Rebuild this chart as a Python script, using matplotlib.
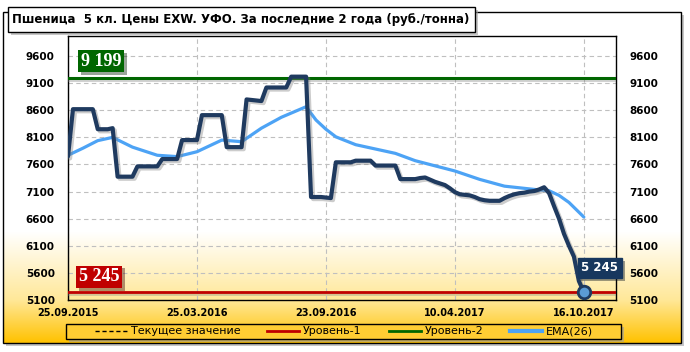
import numpy as np
import matplotlib.pyplot as plt
import matplotlib.patheffects as pe
import matplotlib.transforms as mtransforms
from matplotlib.patches import Rectangle
from matplotlib.lines import Line2D

plt.rcParams['font.family'] = ['DejaVu Sans']

title = 'Пшеница  5 кл. Цены EXW. УФО. За последние 2 года (руб./тонна)'
date_labels = ['25.09.2015', '25.03.2016', '23.09.2016', '10.04.2017', '16.10.2017']
date_pos = [0, 26, 52, 78, 104]
yticks = [5100, 5600, 6100, 6600, 7100, 7600, 8100, 8600, 9100, 9600]

# weekly prices
price = [7750,
         8620, 8620, 8620, 8620, 8620,
         8250, 8250, 8250, 8270,
         7375, 7375, 7375, 7375,
         7565, 7565, 7565, 7565, 7565,
         7700, 7700, 7700, 7700,
         8050, 8050, 8050, 8050,
         8510, 8510, 8510, 8510, 8510,
         7920, 7920, 7920, 7920,
         8800, 8790, 8780, 8770,
         9020, 9020, 9020, 9020, 9020,
         9220, 9220, 9220, 9220,
         7000, 7000, 7000, 6990, 6980,
         7640, 7640, 7640, 7640,
         7670, 7670, 7670, 7670,
         7580, 7580, 7580, 7580, 7580,
         7330, 7330, 7330, 7330,
         7350, 7360,
         7320, 7280, 7250, 7220, 7160,
         7090, 7050, 7040, 7030, 7000,
         6960, 6940, 6930, 6930, 6930,
         6980, 7020, 7050, 7070, 7080, 7100, 7110, 7140, 7180,
         7070, 6830, 6600, 6320, 6100, 5900, 5450, 5245]

ema_idx = [0, 3, 6, 9, 13, 18, 22, 26, 31, 35, 39, 43, 48, 50, 52, 54, 58,
           66, 70, 78, 83, 88, 94, 97, 99, 101, 104]
ema_val = [7770, 7900, 8040, 8100, 7920, 7770, 7745, 7835, 8050, 8020, 8270,
           8470, 8665, 8420, 8250, 8110, 7965, 7805, 7670, 7480, 7325, 7200,
           7140, 7115, 7030, 6900, 6630]

level1 = 5245
level2 = 9199
current = 5245
legend_labels = ['Текущее значение', 'Уровень-1', 'Уровень-2', 'EMA(26)']

c_price = '#1F3A5F'
c_ema = '#4DA3F5'
c_red = '#C00000'
c_green = '#006600'

W, H = 690, 352
fig = plt.figure(figsize=(W / 100, H / 100), dpi=100)

# background: outer frame with gradient, title box, legend box
bg = fig.add_axes([0, 0, 1, 1], zorder=0)
bg.add_patch(Rectangle((6, 15), 678, 331, facecolor='#a0a0a0', edgecolor='none',
                       alpha=0.6, zorder=0.1))
ys = np.arange(12, 344)
sy = [12, 232, 300, 343]
sc = np.array([[1, 1, 1], [1, 1, 1], [1.0, 0.91, 0.60], [1.0, 0.76, 0.0]])
grad = np.stack([np.interp(ys, sy, sc[:, k]) for k in range(3)], axis=-1)[:, None, :]
bg.imshow(grad, extent=(3, 681, 343, 12), aspect='auto', interpolation='bilinear', zorder=0.5)
bg.add_patch(Rectangle((3, 12), 678, 331, fill=False, edgecolor='black', lw=1))
bg.add_patch(Rectangle((11, 10), 467, 25, facecolor='#a0a0a0', edgecolor='none', alpha=0.6))
bg.add_patch(Rectangle((8, 7), 467, 25, facecolor='white', edgecolor='black', lw=1))
bg.text(12, 19.5, title, fontsize=8.45, fontweight='bold', va='center', ha='left')
bg.add_patch(Rectangle((69, 327), 555, 15, facecolor='#a0a0a0', edgecolor='none', alpha=0.6))
bg.add_patch(Rectangle((66, 324), 555, 15, facecolor='#FFCD33', edgecolor='black', lw=1))
bg.set_xlim(0, W)
bg.set_ylim(H, 0)
bg.axis('off')

ax = fig.add_axes([68 / W, (H - 300) / H, 548 / W, 264 / H], zorder=1)
ax.patch.set_alpha(0)

x = np.arange(len(price))
ax.axhline(current, color='black', ls=(0, (3, 2)), lw=0.8, zorder=2)
shadow = [pe.SimpleLineShadow(offset=(0, -1.5), shadow_color='gray', alpha=0.35), pe.Normal()]
ax.axhline(level1, color=c_red, lw=2, zorder=3, path_effects=shadow)
ax.axhline(level2, color=c_green, lw=2.2, zorder=3, path_effects=shadow)
ax.plot(ema_idx, ema_val, color=c_ema, lw=2.3, zorder=4, solid_capstyle='round')
ax.plot(x, price, color=c_price, lw=3, zorder=5, solid_joinstyle='round',
        solid_capstyle='round',
        path_effects=[pe.SimpleLineShadow(offset=(1.5, -1.5), shadow_color='gray', alpha=0.4), pe.Normal()])
ax.plot(x[-1], price[-1], 'o', ms=9, mfc='#5B9BD5', mec=c_price, mew=2, zorder=6)

trans = mtransforms.blended_transform_factory(ax.transAxes, ax.transData)
box_shadow = [pe.withSimplePatchShadow(offset=(2, -2), alpha=0.4)]
t1 = ax.annotate('9 199', xy=(33 / 548, level2), xycoords=trans, xytext=(0, 12),
                 textcoords='offset points', ha='center', va='center', color='white',
                 fontsize=13, fontweight='bold', family='Liberation Serif',
                 bbox=dict(boxstyle='square,pad=0.15', fc=c_green, ec='none'), zorder=7)
t2 = ax.annotate('5 245', xy=(31 / 548, level1), xycoords=trans, xytext=(0, 11),
                 textcoords='offset points', ha='center', va='center', color='white',
                 fontsize=13, fontweight='bold', family='Liberation Serif',
                 bbox=dict(boxstyle='square,pad=0.15', fc=c_red, ec='none'), zorder=7)
t3 = ax.annotate('5 245', xy=(x[-1], price[-1]), xytext=(11.5, 17.5),
                 textcoords='offset points', ha='center', va='center', color='white',
                 fontsize=8.5, fontweight='bold',
                 bbox=dict(boxstyle='square,pad=0.3', fc='#17375E', ec='#17375E'), zorder=7)
for t in (t1, t2, t3):
    t.get_bbox_patch().set_path_effects(box_shadow)

ax.set_xlim(0, 548 / 4.96)
ax.set_ylim(5100, 9970)
ax.set_yticks(yticks)
ax.set_yticklabels([str(v) for v in yticks], fontsize=7.5, fontweight='bold')
ax.set_xticks(date_pos)
ax.set_xticklabels(date_labels, fontsize=7, fontweight='bold')
ax.tick_params(axis='y', length=0, labelleft=True, labelright=True, pad=9.5)
ax.tick_params(axis='x', length=0, pad=6)
ax.grid(True, color='#BFBFBF', ls=(0, (4, 3)), lw=0.8)
ax.set_axisbelow(True)
for s in ax.spines.values():
    s.set_color('black')
    s.set_linewidth(1)

handles = [Line2D([], [], color='black', ls=(0, (3, 2)), lw=1),
           Line2D([], [], color=c_red, lw=2),
           Line2D([], [], color=c_green, lw=2),
           Line2D([], [], color=c_ema, lw=3)]
fig.legend(handles, legend_labels, loc='center', bbox_to_anchor=(344 / W, 1 - 331.5 / H),
           ncol=4, frameon=False, fontsize=8, handlelength=2.9, handletextpad=0.35,
           columnspacing=2.4, borderpad=0, borderaxespad=0)

fig.savefig('out.png', dpi=100)
